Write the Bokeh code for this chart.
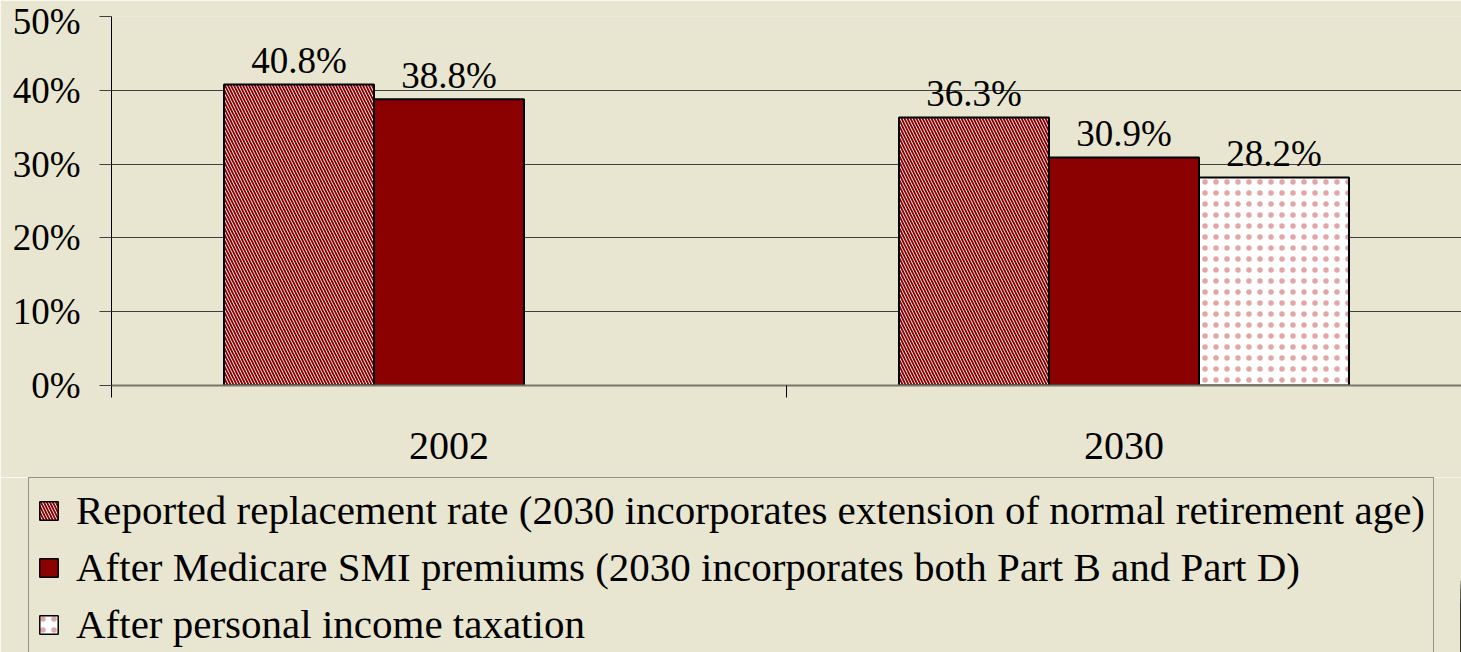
from bokeh.plotting import figure
from bokeh.layouts import column
from bokeh.models import (Range1d, FixedTicker, NumeralTickFormatter, Legend,
                          LegendItem, ColumnDataSource)
from bokeh.core.properties import value
from bokeh.embed import file_html
from bokeh.resources import INLINE

# ---------------- data ----------------
categories = ["2002", "2030"]
series_names = [
    "Reported replacement rate (2030 incorporates extension of normal retirement age)",
    "After Medicare SMI premiums (2030 incorporates both Part B and Part D)",
    "After personal income taxation",
]
reported = [0.408, 0.363]
after_smi = [0.388, 0.309]
after_tax = [None, 0.282]
y_ticks = [0.0, 0.1, 0.2, 0.3, 0.4, 0.5]

# ---------------- styles ----------------
BG = "#E8E6D0"
RED = "#8B0000"
FONT = "Liberation Serif"
BAR_W = 2.0 / 9.0
offsets = [-BAR_W, 0.0, BAR_W]

p = figure(width=1461, height=477, output_backend="svg", toolbar_location=None,
           x_range=Range1d(0, len(categories)), y_range=Range1d(0, 0.5),
           min_border_left=111, min_border_right=0, min_border_top=16,
           min_border_bottom=92, frame_align=False)
p.background_fill_color = BG
p.border_fill_color = BG
p.outline_line_color = None

styles = [
    dict(fill_color="white", hatch_pattern="left_diagonal_line", hatch_color=RED,
         hatch_scale=6, hatch_weight=1.9),
    dict(fill_color=RED),
    dict(fill_color="white", hatch_pattern="dot", hatch_color="#B00000",
         hatch_scale=11, hatch_weight=0.5, hatch_alpha=0.35),
]

sources = []
for k, vals in enumerate([reported, after_smi, after_tax]):
    xs, tops, labels = [], [], []
    for i, v in enumerate(vals):
        if v is None:
            continue
        xs.append(i + 0.5 + offsets[k])
        tops.append(v)
        labels.append(f"{v * 100:.1f}%")
    src = ColumnDataSource(dict(x=xs, top=tops, label=labels))
    sources.append(src)
    p.vbar(x="x", top="top", bottom=0, width=BAR_W, source=src,
           line_color="black", line_width=2, **styles[k])
    p.text(x="x", y="top", text="label", source=src, y_offset=-24,
           text_align="center", text_baseline="alphabetic",
           text_font=value(FONT), text_font_size="37px", text_color="black")

# grid
p.xgrid.grid_line_color = None
p.ygrid.grid_line_color = "#404040"
p.ygrid.grid_line_width = 1

# y axis
ya = p.yaxis[0]
ya.ticker = FixedTicker(ticks=y_ticks)
ya.formatter = NumeralTickFormatter(format="0%")
ya.major_tick_out = 12
ya.major_tick_in = 0
ya.major_tick_line_color = "#404040"
ya.minor_tick_line_color = None
ya.axis_line_color = "black"
ya.major_label_standoff = 19
ya.major_label_text_font = FONT
ya.major_label_text_font_size = "37px"
ya.major_label_text_color = "black"

# x axis
xa = p.xaxis[0]
centers = [i + 0.5 for i in range(len(categories))]
bounds = [float(i) for i in range(len(categories) + 1)]
xa.ticker = FixedTicker(ticks=centers, minor_ticks=bounds)
xa.major_label_overrides = {c: lab for c, lab in zip(centers, categories)}
xa.major_tick_line_color = None
xa.major_tick_out = 0
xa.major_tick_in = 0
xa.minor_tick_out = 12
xa.minor_tick_in = 0
xa.minor_tick_line_color = "black"
xa.axis_line_color = "#76766a"
xa.axis_line_width = 2
xa.major_label_standoff = 35
xa.major_label_text_font = FONT
xa.major_label_text_font_size = "40px"
xa.major_label_text_color = "black"

# ---------------- legend panel ----------------
q = figure(width=1461, height=175, output_backend="svg", toolbar_location=None,
           x_axis_type=None, y_axis_type=None, x_range=Range1d(-20, -19),
           y_range=Range1d(0, 1), min_border_left=28, min_border_right=0,
           min_border_top=0, min_border_bottom=0, frame_align=False)
q.background_fill_color = BG
q.border_fill_color = BG
q.outline_line_color = None
q.grid.grid_line_color = None
dummies = [q.vbar(x="x", top="top", bottom=0, width=BAR_W, source=src,
                  line_color="black", line_width=1.5, **st)
           for src, st in zip(sources, styles)]

legend = Legend(
    items=[LegendItem(label=n, renderers=[r]) for n, r in zip(series_names, dummies)],
    location="top_left", orientation="vertical",
    glyph_width=23, glyph_height=23, label_height=46, spacing=9,
    padding=8, margin=0, label_standoff=16,
    label_text_font=FONT, label_text_font_size="41px", label_text_color="black",
    border_line_color="#404040", border_line_width=1,
    background_fill_color=BG, background_fill_alpha=1.0,
)
q.add_layout(legend)

layout = column(p, q, spacing=0)
open("out.html", "w").write(file_html(layout, INLINE))
